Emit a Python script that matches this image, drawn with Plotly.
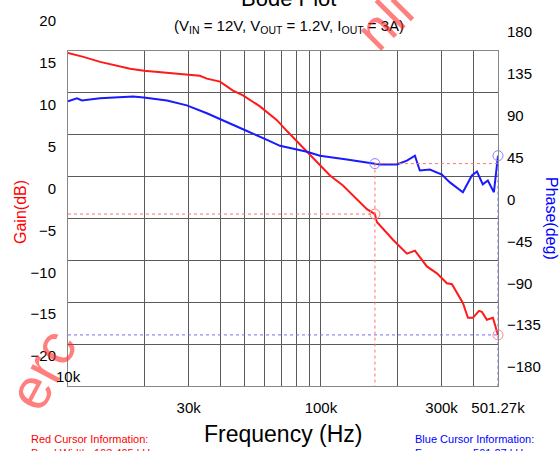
import plotly.graph_objects as go

# gain trace (red), frequency in kHz
freq_gain_khz = [10.0, 11.5, 13.4, 17.6, 20.0, 27.7, 33.2, 35.4, 39.9, 44.9, 49.2, 57.4, 67.0, 73.4,
                 88.9, 108.6, 122.2, 152.0, 163.5, 166.4, 192.7, 218.8, 235.3, 262.3, 287.4, 314.8,
                 329.6, 364.2, 381.3, 398.9, 421.7, 432.9, 452.9, 478.6, 501.27]
gain_db = [19.75, 19.3, 18.70, 17.88, 17.64, 17.29, 17.05, 16.7, 16.34, 15.28, 14.69, 13.39, 11.74, 10.44,
           7.85, 5.13, 3.95, 1.12, 0.53, -0.41, -2.54, -4.19, -3.83, -5.72, -6.55, -7.73,
           -7.85, -10.09, -11.86, -11.86, -11.03, -11.15, -12.09, -11.86, -13.9]

# phase trace (blue)
freq_phase_khz = [10.0, 10.85, 11.36, 13.38, 18.07, 19.95, 24.6, 29.5, 35.4, 43.7, 51.0, 61.2, 68.9,
                  88.1, 99.1, 126.7, 163.5, 171.0, 199.6, 218.8, 235.3, 246.0, 269.6, 300.7, 323.6,
                  364.2, 395.2, 414.0, 436.5, 457.0, 483.0, 501.27]
phase_deg = [125.9, 129.1, 126.9, 129.1, 131.2, 130.1, 126.9, 121.6, 113.1, 102.5, 94.0, 84.5, 78.1,
             71.7, 67.5, 63.3, 59.0, 58.0, 58.0, 62.2, 67.5, 51.6, 52.6, 47.3, 38.8,
             28.2, 46.3, 50.5, 36.7, 40.9, 28.2, 67.5]

# cursors
red_cursor = dict(freq=163.495, gain=0.53, phase=59.0)
blue_cursor = dict(freq=501.27, gain=-13.9, phase=67.5)

# axes
x_tickvals = [30000, 100000, 300000, 501270]
x_ticktext = ["30k", "100k", "300k", "501.27k"]
x_minorvals = [20000, 40000, 50000, 60000, 70000, 80000, 90000, 200000, 400000]
gain_ticks = [-20, -15, -10, -5, 0, 5, 10, 15, 20]
phase_ticks = [-180, -135, -90, -45, 0, 45, 90, 135, 180]

FONT = "Arial, Liberation Sans, sans-serif"
RED = "#ff1a1a"
BLUE = "#1a1aff"
GRID = "#5a5a5a"
WATERMARK = "rgba(255,40,40,0.6)"

fg = [f * 1000 for f in freq_gain_khz]
fp = [f * 1000 for f in freq_phase_khz]
xmin, xmax = fg[0], fg[-1]

fig = go.Figure()

fig.add_trace(go.Scatter(x=fg, y=gain_db, mode="lines", line=dict(color=RED, width=2), yaxis="y"))
fig.add_trace(go.Scatter(x=fp, y=phase_deg, mode="lines", line=dict(color=BLUE, width=2), yaxis="y2"))

# cursor lines
rc_f = red_cursor["freq"] * 1000
bc_f = blue_cursor["freq"] * 1000
dot_red = dict(color="#ff7070", width=1, dash="dot")
dot_blue = dict(color="#7070ff", width=1, dash="dot")
fig.add_trace(go.Scatter(x=[xmin, rc_f], y=[red_cursor["gain"]] * 2, mode="lines", line=dot_red, yaxis="y"))
fig.add_trace(go.Scatter(x=[rc_f, rc_f], y=[red_cursor["phase"], -180], mode="lines", line=dot_red, yaxis="y2"))
fig.add_trace(go.Scatter(x=[rc_f, xmax], y=[red_cursor["phase"]] * 2, mode="lines", line=dot_red, yaxis="y2"))
fig.add_trace(go.Scatter(x=[xmin, bc_f], y=[blue_cursor["gain"]] * 2, mode="lines", line=dot_blue, yaxis="y"))
fig.add_trace(go.Scatter(x=[bc_f, bc_f], y=[blue_cursor["phase"], -180], mode="lines", line=dot_blue,
                         yaxis="y2", cliponaxis=False))

# cursor circles
fig.add_trace(go.Scatter(x=[rc_f, bc_f], y=[red_cursor["gain"], blue_cursor["gain"]], mode="markers",
                         marker=dict(symbol="circle-open", size=10, color="#ff8080", line=dict(width=1)),
                         yaxis="y", cliponaxis=False))
fig.add_trace(go.Scatter(x=[rc_f, bc_f], y=[red_cursor["phase"], blue_cursor["phase"]], mode="markers",
                         marker=dict(symbol="circle-open", size=10, color="#8080ff", line=dict(width=1)),
                         yaxis="y2", cliponaxis=False))

fig.update_layout(
    width=559, height=451,
    margin=dict(l=68, r=61, t=47, b=65),
    paper_bgcolor="white", plot_bgcolor="white",
    showlegend=False,
    font=dict(family=FONT, color="black", size=15),
    xaxis=dict(type="log", range=[4, 5.7001], tickvals=x_tickvals, ticktext=x_ticktext,
               showgrid=True, gridcolor=GRID, gridwidth=1, ticks="", ticklabelstandoff=8,
               minor=dict(tickvals=x_minorvals, showgrid=True, gridcolor=GRID, gridwidth=1),
               showline=True, linecolor="#888", mirror=True, zeroline=False),
    yaxis=dict(range=[-20, 20], tickvals=gain_ticks, showgrid=True, gridcolor=GRID, gridwidth=1,
               ticks="", ticklabelshift=-30, ticklabelstandoff=8, zeroline=False,
               showline=True, linecolor="#888", mirror=True),
    yaxis2=dict(range=[-180, 180], tickvals=phase_ticks, overlaying="y", side="right",
                showgrid=False, ticks="", ticklabelshift=-19, ticklabelstandoff=8, zeroline=False),
)

ann = [
    dict(text="Bode Plot", x=0.512, y=1.157, font=dict(size=22)),
    dict(text="(V<sub>IN</sub> = 12V, V<sub>OUT</sub> = 1.2V, I<sub>OUT</sub> = 3A)", x=0.514, y=1.074,
         font=dict(size=15)),
    dict(text="Frequency (Hz)", x=0.5, y=-0.142, font=dict(size=23)),
    dict(text="Gain(dB)", x=-0.112, y=0.519, textangle=-90, font=dict(size=16, color="red")),
    dict(text="Phase(deg)", x=1.126, y=0.501, textangle=90, font=dict(size=16, color="blue")),
    dict(text="Red Cursor Information:<br>Band Width: 163.495 kHz", x=-0.0907, y=-0.133,
         xanchor="left", yanchor="top", align="left", font=dict(size=11, color="red")),
    dict(text="Blue Cursor Information:<br>Frequency: 501.27 kHz", x=0.802, y=-0.133,
         xanchor="left", yanchor="top", align="left", font=dict(size=11, color="blue")),
    # watermark pieces visible around the plot area
    dict(text="erc", x=-0.062, y=0.05, textangle=-62, font=dict(size=58, color=WATERMARK)),
    dict(text="nli", x=0.735, y=1.09, textangle=-45, font=dict(size=54, color=WATERMARK)),
]
for a in ann:
    a.setdefault("xref", "paper")
    a.setdefault("yref", "paper")
    a.setdefault("xanchor", "center")
    a.setdefault("yanchor", "middle")
    a["showarrow"] = False
    fig.add_annotation(**a)

fig.add_annotation(text="10k", x=4, y=0.0295, xref="x", yref="paper", xanchor="center", yanchor="middle",
                   showarrow=False, font=dict(size=15))

fig.write_html("out.html", config={"displayModeBar": False},
               post_script="document.body.style.margin='0';")
